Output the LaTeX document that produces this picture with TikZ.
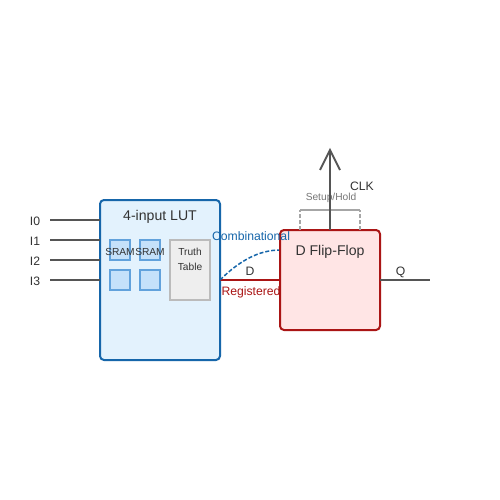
\documentclass[tikz,border=0pt]{standalone}
\usepackage{fontspec}
\setmainfont{Liberation Sans}
\definecolor{lutfill}{HTML}{E3F2FD}
\definecolor{lutline}{HTML}{1666AA}
\definecolor{ffill}{HTML}{FFE5E5}
\definecolor{ffline}{HTML}{AA1515}
\definecolor{cellfill}{HTML}{C5E1FA}
\definecolor{cellline}{HTML}{62A2DC}
\definecolor{ttfill}{HTML}{EEEEEE}
\definecolor{ttline}{HTML}{BBBBBB}
\definecolor{wire}{HTML}{555555}
\definecolor{txt}{HTML}{333333}
\definecolor{setup}{HTML}{A6A6A6}
\definecolor{setuptxt}{HTML}{777777}
\tikzset{
  x=1pt,y=-1pt,
  lutbox/.style={draw=lutline,fill=lutfill,line width=2pt,rounded corners=4pt,minimum width=120pt,minimum height=160pt,inner sep=0pt,outer sep=0pt},
  ffbox/.style={draw=ffline,fill=ffill,line width=2pt,rounded corners=4pt,minimum width=100pt,minimum height=100pt,inner sep=0pt,outer sep=0pt},
  cell/.style={draw=cellline,fill=cellfill,line width=1.5pt,minimum width=20pt,minimum height=20pt,inner sep=0pt,outer sep=0pt},
  ttbox/.style={draw=ttline,fill=ttfill,line width=1.5pt,minimum width=40pt,minimum height=60pt,inner sep=0pt,outer sep=0pt},
  wireline/.style={draw=wire,line width=2pt},
  lab/.style={inner sep=0pt,outer sep=0pt,text=txt,font=\fontsize{12.2}{14}\selectfont},
  title/.style={inner sep=0pt,outer sep=0pt,text=txt,font=\fontsize{14.1}{16}\selectfont},
  tiny/.style={inner sep=0pt,outer sep=0pt,text=txt,font=\fontsize{10.2}{12}\selectfont},
  setupside/.style={draw=setup,line width=1.5pt,dash pattern=on 4pt off 2pt},
}
\begin{document}
\begin{tikzpicture}
\useasboundingbox (0,0) rectangle (500,500);
\fill[white] (0,0) rectangle (500,500);
\coordinate (i0s) at (50,220);
\coordinate (i1s) at (50,240);
\coordinate (i2s) at (50,260);
\coordinate (i3s) at (50,280);
\coordinate (i0e) at (100,220);
\coordinate (i1e) at (100,240);
\coordinate (i2e) at (100,260);
\coordinate (i3e) at (100,280);
\coordinate (lutout) at (220,280);
\coordinate (ffd) at (280,280);
\coordinate (ffq) at (380,280);
\coordinate (qend) at (430,280);
\coordinate (ffclk) at (330,230);
\coordinate (clktip) at (330,150);
\coordinate (clkl) at (320,170);
\coordinate (clkr) at (340,170);
\coordinate (ffcomb) at (280,250);
\coordinate (sl) at (300,230);
\coordinate (slt) at (300,210);
\coordinate (srt) at (360,210);
\coordinate (sr) at (360,230);
\node[lab,anchor=base] (lregistered) at (251,295) {\textcolor{ffline}{Registered}};
\node[lutbox] (lut) at (160,280) {};
\node[title,anchor=base] (luttitle) at (160,220) {4-input LUT};
\node[cell] (c1) at (120,250) {};
\node[cell] (c2) at (150,250) {};
\node[cell] (c3) at (120,280) {};
\node[cell] (c4) at (150,280) {};
\node[tiny,anchor=base] (s1) at (120,255) {SRAM};
\node[tiny,anchor=base] (s2) at (150,255) {SRAM};
\node[ttbox] (tt) at (190,270) {};
\node[tiny,anchor=base] (tt1) at (190,255) {Truth};
\node[tiny,anchor=base] (tt2) at (190,270) {Table};
\foreach \n in {0,1,2,3}{
  \draw[wireline] (i\n s) -- (i\n e);
}
\node[lab,anchor=base] (l0) at (35,225) {I0};
\node[lab,anchor=base] (l1) at (35,245) {I1};
\node[lab,anchor=base] (l2) at (35,265) {I2};
\node[lab,anchor=base] (l3) at (35,285) {I3};
\draw[draw=ffline,line width=2pt] (lutout) -- (ffd);
\draw[draw=lutline,line width=1.5pt,dash pattern=on 4pt off 2pt] (lutout) .. controls (240,260) and (260,250) .. (ffcomb);
\node[ffbox] (ff) at (330,280) {};
\node[title,anchor=base] (fftitle) at (330,255) {D Flip-Flop};
\draw[wireline] (ffq) -- (qend);
\draw[setupside] (sl) -- (slt);
\draw[setupside] (sr) -- (srt);
\draw[draw=setup,line width=1.5pt] (slt) -- (srt);
\node[tiny,anchor=base,text=setuptxt] (lsetup) at (331,200) {Setup/Hold};
\draw[wireline] (ffclk) -- (clktip);
\draw[wireline] (clkl) -- (clktip) -- (clkr);
\node[lab,anchor=base] (ld) at (250,275) {D};
\node[lab,anchor=base] (lq) at (400.5,275) {Q};
\node[lab,anchor=base] (lclk) at (362,190) {CLK};
\node[lab,anchor=base] (lcomb) at (251,240) {\textcolor{lutline}{Combinational}};
\end{tikzpicture}
\end{document}
